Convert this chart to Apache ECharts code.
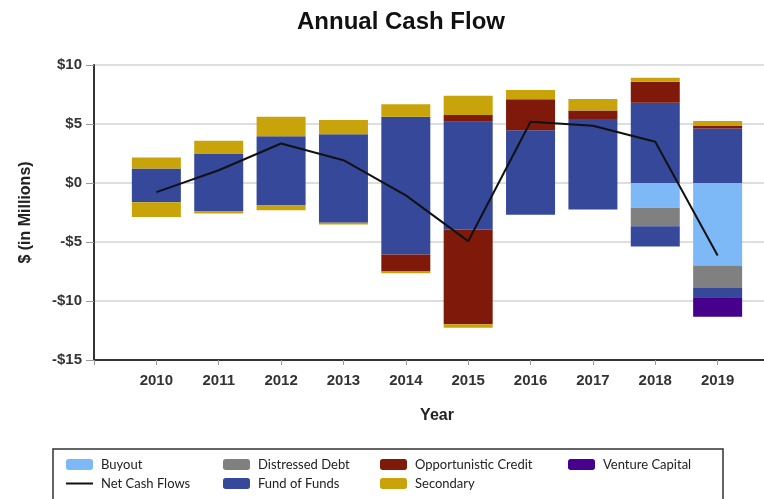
<!DOCTYPE html>
<html>
<head>
<meta charset="utf-8">
<script src="https://cdn.jsdelivr.net/npm/echarts@6/dist/echarts.min.js"></script>
<style>html,body{margin:0;padding:0;background:#fff;}#c{width:764px;height:499px;}</style>
</head>
<body>
<div id="c"></div>
<script>
// ---- data (in $ millions) ----
var years = ['2010', '2011', '2012', '2013', '2014', '2015', '2016', '2017', '2018', '2019'];
var buyout        = [0, 0, 0, 0, 0, 0, 0, 0, -2.10, -7.00];
var distressed    = [0, 0, 0, 0, 0, 0, 0, 0, -1.56, -1.90];
var fundPos       = [1.22, 2.50, 3.97, 4.14, 5.61, 5.19, 4.48, 5.42, 6.80, 4.62];
var fundNeg       = [-1.64, -2.41, -1.90, -3.37, -6.06, -3.94, -2.69, -2.24, -1.72, -0.79];
var oppPos        = [0, 0, 0, 0, 0, 0.57, 2.61, 0.73, 1.79, 0.20];
var oppNeg        = [0, 0, 0, 0, -1.45, -8.02, 0, 0, 0, 0];
var venture       = [0, 0, 0, 0, 0, 0, 0, 0, 0, -1.65];
var secondaryPos  = [0.94, 1.07, 1.64, 1.19, 1.06, 1.64, 0.79, 0.97, 0.34, 0.43];
var secondaryNeg  = [-1.25, -0.17, -0.40, -0.14, -0.14, -0.31, 0, 0, 0, 0];
var netCashFlows  = [-0.77, 1.08, 3.35, 1.93, -1.05, -4.93, 5.19, 4.85, 3.49, -6.15];
var yTicks = [-15, -10, -5, 0, 5, 10];

var colors = {
  'Buyout': '#7db8f7',
  'Distressed Debt': '#808080',
  'Fund of Funds': '#35489a',
  'Opportunistic Credit': '#7f1a0b',
  'Venture Capital': '#46008b',
  'Secondary': '#c9a30a'
};

// the axis runs from one slot before 2010 to one slot after 2019 (right end cropped)
var axisCats = [''].concat(years).concat([' ']);
function padded(arr) { return [null].concat(arr).concat([null]); }
function bar(name, arr) {
  return {
    type: 'bar', name: name, stack: 'cf', stackStrategy: 'samesign',
    barWidth: 49, data: padded(arr),
    itemStyle: { color: colors[name] }, emphasis: { disabled: true }
  };
}

var chart = echarts.init(document.getElementById('c'), null, { renderer: 'canvas' });
var legendText = { fontFamily: 'Lato', fontSize: 13, color: '#222', padding: [0, 0, 0, 3] };
function legendCol(left, names) {
  return {
    orient: 'vertical', left: left, top: 458, itemWidth: 27, itemHeight: 11,
    itemGap: 6, padding: 0, textStyle: legendText, selectedMode: false, data: names
  };
}
chart.setOption({
  animation: false,
  title: {
    text: 'Annual Cash Flow', left: 396, top: 5, textAlign: 'center',
    textStyle: { fontFamily: 'Liberation Sans', fontSize: 24, fontWeight: 'bold', color: '#111' }
  },
  grid: { left: 94, top: 65, width: 686, height: 295, outerBoundsMode: 'none', containLabel: false },
  xAxis: {
    type: 'category', data: axisCats, boundaryGap: false,
    name: 'Year', nameLocation: 'middle', nameGap: 48,
    nameTextStyle: { fontFamily: 'Liberation Sans', fontSize: 16, fontWeight: 'bold', color: '#222' },
    axisLine: { show: true, onZero: false, lineStyle: { color: '#333', width: 2 } },
    axisTick: { show: true, length: 5, interval: 0, lineStyle: { color: '#999' } },
    splitLine: { show: false },
    axisLabel: {
      margin: 13, interval: 0, fontFamily: 'Liberation Sans', fontSize: 15, fontWeight: 'bold', color: '#333'
    }
  },
  yAxis: {
    type: 'value', min: yTicks[0], max: yTicks[yTicks.length - 1], interval: 5,
    name: '$ (in Millions)', nameLocation: 'middle', nameGap: 60, nameRotate: 90,
    nameTextStyle: { fontFamily: 'Liberation Sans', fontSize: 16, fontWeight: 'bold', color: '#222' },
    axisLine: { show: true, lineStyle: { color: '#333', width: 2 } },
    axisTick: { show: true, length: 8, lineStyle: { color: '#999' } },
    splitLine: { show: true, lineStyle: { color: '#dedede', width: 2 } },
    axisLabel: {
      margin: 12, fontFamily: 'Liberation Sans', fontSize: 15, fontWeight: 'bold', color: '#333',
      formatter: function (v) { return v < 0 ? '-$' + Math.abs(v) : '$' + v; }
    }
  },
  legend: [
    legendCol(66, ['Buyout', { name: 'Net Cash Flows', icon: 'path://M0,0H27V2H0Z' }]),
    legendCol(223, ['Distressed Debt', 'Fund of Funds']),
    legendCol(380, ['Opportunistic Credit', 'Secondary']),
    legendCol(568, ['Venture Capital'])
  ],
  graphic: [{
    type: 'rect', shape: { x: 53, y: 449, width: 670, height: 70 },
    style: { fill: 'none', stroke: '#333', lineWidth: 1.5 }, silent: true
  }],
  series: [
    bar('Buyout', buyout),
    bar('Distressed Debt', distressed),
    bar('Fund of Funds', fundPos),
    bar('Fund of Funds', fundNeg),
    bar('Opportunistic Credit', oppPos),
    bar('Opportunistic Credit', oppNeg),
    bar('Venture Capital', venture),
    bar('Secondary', secondaryPos),
    bar('Secondary', secondaryNeg),
    {
      type: 'line', name: 'Net Cash Flows', data: padded(netCashFlows),
      symbol: 'none', showSymbol: false, z: 5,
      lineStyle: { color: '#111', width: 2 }, itemStyle: { color: '#111' },
      emphasis: { disabled: true }
    }
  ]
});
</script>
</body>
</html>
